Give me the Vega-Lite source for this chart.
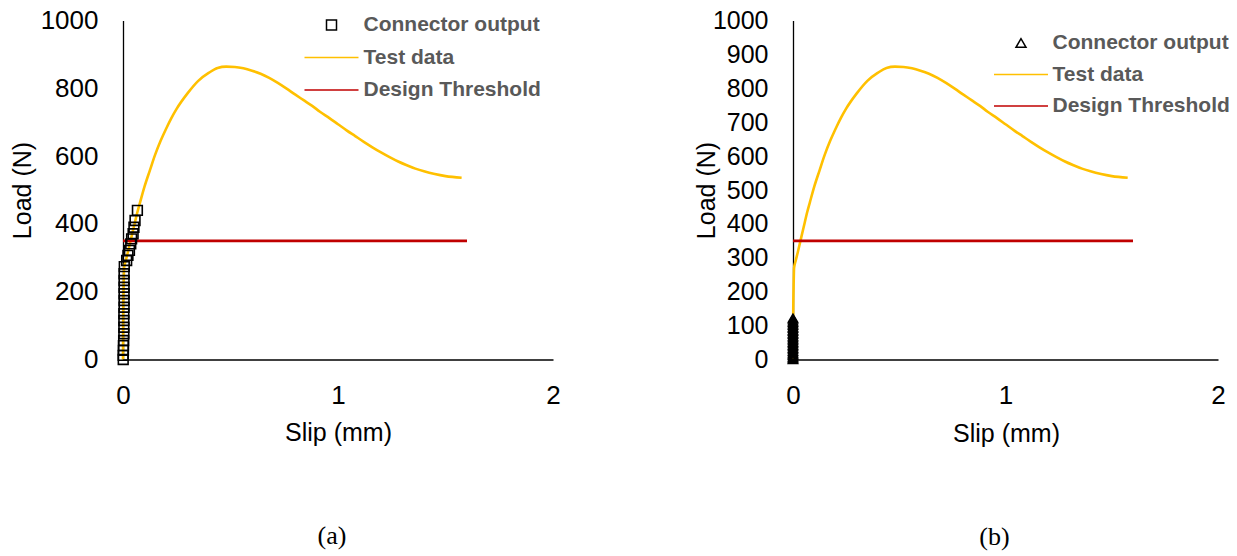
{
  "$schema": "https://vega.github.io/schema/vega-lite/v6.json",
  "padding": {"left": 10, "top": 7.5, "right": 0, "bottom": 0},
  "background": "white",
  "datasets": {
    "test": [
      {"slip": 0, "load": 0}, {"slip": 0.001, "load": 130}, {"slip": 0.003, "load": 220},
      {"slip": 0.005, "load": 270}, {"slip": 0.012, "load": 290}, {"slip": 0.022, "load": 315},
      {"slip": 0.035, "load": 350}, {"slip": 0.05, "load": 390}, {"slip": 0.067, "load": 435},
      {"slip": 0.08, "load": 465}, {"slip": 0.1, "load": 510}, {"slip": 0.125, "load": 558},
      {"slip": 0.15, "load": 605}, {"slip": 0.175, "load": 645}, {"slip": 0.2, "load": 680},
      {"slip": 0.225, "load": 712}, {"slip": 0.25, "load": 740}, {"slip": 0.3, "load": 785},
      {"slip": 0.35, "load": 822}, {"slip": 0.4, "load": 846}, {"slip": 0.44, "load": 860},
      {"slip": 0.48, "load": 864}, {"slip": 0.52, "load": 863}, {"slip": 0.56, "load": 859},
      {"slip": 0.6, "load": 852}, {"slip": 0.64, "load": 843}, {"slip": 0.68, "load": 831},
      {"slip": 0.72, "load": 816}, {"slip": 0.761, "load": 799}, {"slip": 0.8, "load": 782},
      {"slip": 0.84, "load": 765}, {"slip": 0.88, "load": 748}, {"slip": 0.916, "load": 731},
      {"slip": 0.96, "load": 712}, {"slip": 1.0, "load": 694}, {"slip": 1.04, "load": 676},
      {"slip": 1.08, "load": 659}, {"slip": 1.12, "load": 642}, {"slip": 1.16, "load": 626},
      {"slip": 1.2, "load": 611}, {"slip": 1.24, "load": 597}, {"slip": 1.28, "load": 584},
      {"slip": 1.32, "load": 573}, {"slip": 1.36, "load": 563}, {"slip": 1.4, "load": 555},
      {"slip": 1.45, "load": 547}, {"slip": 1.5, "load": 541}, {"slip": 1.575, "load": 536}
    ],
    "thr": [{"slip": 0, "load": 350}, {"slip": 1.6, "load": 350}],
    "connA": [
      {"slip": 0.001, "load": 0}, {"slip": 0.001, "load": 12}, {"slip": 0.002, "load": 27},
      {"slip": 0.002, "load": 41}, {"slip": 0.003, "load": 56}, {"slip": 0.004, "load": 76},
      {"slip": 0.004, "load": 95}, {"slip": 0.004, "load": 115}, {"slip": 0.004, "load": 135},
      {"slip": 0.005, "load": 154}, {"slip": 0.005, "load": 174}, {"slip": 0.005, "load": 194},
      {"slip": 0.005, "load": 213}, {"slip": 0.005, "load": 233}, {"slip": 0.005, "load": 253},
      {"slip": 0.006, "load": 274}, {"slip": 0.017, "load": 292}, {"slip": 0.023, "load": 307},
      {"slip": 0.03, "load": 322}, {"slip": 0.036, "load": 341}, {"slip": 0.04, "load": 356},
      {"slip": 0.047, "load": 371}, {"slip": 0.051, "load": 390}, {"slip": 0.056, "load": 410},
      {"slip": 0.067, "load": 440}
    ],
    "connB": [
      {"slip": 0, "load": 0}, {"slip": 0, "load": 2}, {"slip": 0, "load": 5}, {"slip": 0, "load": 8},
      {"slip": 0, "load": 12}, {"slip": 0, "load": 16}, {"slip": 0, "load": 20}, {"slip": 0, "load": 24},
      {"slip": 0, "load": 29}, {"slip": 0, "load": 33}, {"slip": 0, "load": 38}, {"slip": 0, "load": 42},
      {"slip": 0, "load": 47}, {"slip": 0, "load": 51}, {"slip": 0, "load": 56}, {"slip": 0, "load": 60},
      {"slip": 0, "load": 65}, {"slip": 0, "load": 69}, {"slip": 0, "load": 74}, {"slip": 0, "load": 78},
      {"slip": 0, "load": 83}, {"slip": 0, "load": 87}, {"slip": 0, "load": 92}, {"slip": 0, "load": 96},
      {"slip": 0, "load": 101}, {"slip": 0, "load": 105}, {"slip": 0, "load": 110}, {"slip": 0, "load": 114},
      {"slip": 0, "load": 119}, {"slip": 0, "load": 122}
    ]
  },
  "spacing": 240,
  "bounds": "flush",
  "resolve": {
    "scale": {"x": "independent", "y": "independent", "color": "independent", "shape": "independent"},
    "axis": {"x": "independent", "y": "independent"},
    "legend": {"color": "independent", "shape": "independent"}
  },
  "hconcat": [
    {
      "width": 430,
      "height": 339,
      "title": {"text": "(a)", "orient": "bottom", "font": "Liberation Serif", "fontSize": 26, "fontWeight": "normal", "color": "#000", "anchor": "middle", "offset": 77.5, "dx": -6},
      "encoding": {
        "x": {"field": "slip", "type": "quantitative", "scale": {"domain": [0, 2], "nice": false},
          "axis": {"values": [0, 1, 2], "labelExpr": "format(datum.value, 'd')", "labelFlush": false, "labelOverlap": false, "labelBound": false, "title": "Slip (mm)", "labelFontSize": 26, "labelPadding": 22.5, "titleFontSize": 25, "titleX": 215, "titleY": 73, "titleBaseline": "middle", "titleAlign": "center"}},
        "y": {"field": "load", "type": "quantitative", "scale": {"domain": [0, 1000], "nice": false},
          "axis": {"values": [0, 200, 400, 600, 800, 1000], "labelExpr": "format(datum.value, 'd')", "labelFlush": false, "labelOverlap": false, "labelBound": false, "title": "Load (N)", "labelFontSize": 26, "labelPadding": 25, "titleFontSize": 25, "titleX": -101, "titleY": 169.5, "titleAngle": -90, "titleBaseline": "middle", "titleAlign": "center"}}
      },
      "layer": [
        {
          "data": {"name": "test"},
          "mark": {"type": "line", "strokeWidth": 2.6, "interpolate": "monotone"},
          "encoding": {
            "color": {"datum": "Test data", "scale": {"domain": ["Connector output", "Test data", "Design Threshold"], "range": ["#000000", "#FFC000", "#C00000"]}}
          }
        },
        {
          "data": {"name": "thr"},
          "mark": {"type": "line", "strokeWidth": 2.6},
          "encoding": {"color": {"datum": "Design Threshold"}}
        },
        {
          "data": {"name": "connA"},
          "mark": {"type": "point", "filled": false, "size": 95, "strokeWidth": 1.6, "opacity": 1},
          "encoding": {
            "color": {"datum": "Connector output",
              "legend": {"title": null, "orient": "none", "legendX": 198, "legendY": -6, "labelOffset": 21.5, "rowPadding": 10.5, "padding": 0, "symbolSize": 100, "labelLimit": 0, "labelFontSize": 21, "labelFontWeight": "bold", "labelColor": "#595959", "labelFont": "Liberation Sans",
                "encode": {"symbols": {"update": {"strokeWidth": {"signal": "datum.value === 'Connector output' ? 1.8 : 2.8"}, "fill": {"value": "transparent"}, "opacity": {"value": 1}}}}}},
            "shape": {"datum": "Connector output", "scale": {"domain": ["Connector output", "Test data", "Design Threshold"], "range": ["square", "M-5.4,0H5.4", "M-5.4,0H5.4"]},
              "legend": {"title": null, "orient": "none", "legendX": 198, "legendY": -6, "labelOffset": 21.5, "rowPadding": 10.5, "padding": 0, "symbolSize": 100, "labelLimit": 0, "labelFontSize": 21, "labelFontWeight": "bold", "labelColor": "#595959", "labelFont": "Liberation Sans",
                "encode": {"symbols": {"update": {"strokeWidth": {"signal": "datum.value === 'Connector output' ? 1.8 : 2.8"}, "fill": {"value": "transparent"}, "opacity": {"value": 1}}}}}}
          }
        }
      ]
    },
    {
      "width": 425,
      "height": 339,
      "title": {"text": "(b)", "orient": "bottom", "font": "Liberation Serif", "fontSize": 26, "fontWeight": "normal", "color": "#000", "anchor": "middle", "offset": 77.5, "dx": -11},
      "encoding": {
        "x": {"field": "slip", "type": "quantitative", "scale": {"domain": [0, 2], "nice": false},
          "axis": {"values": [0, 1, 2], "labelExpr": "format(datum.value, 'd')", "labelFlush": false, "labelOverlap": false, "labelBound": false, "title": "Slip (mm)", "labelFontSize": 26, "labelPadding": 22.5, "titleFontSize": 25, "titleX": 213, "titleY": 74, "titleBaseline": "middle", "titleAlign": "center"}},
        "y": {"field": "load", "type": "quantitative", "scale": {"domain": [0, 1000], "nice": false},
          "axis": {"values": [0, 100, 200, 300, 400, 500, 600, 700, 800, 900, 1000], "tickCount": 11, "labelExpr": "format(datum.value, 'd')", "labelFlush": false, "labelOverlap": false, "labelBound": false, "labelSeparation": -20, "title": "Load (N)", "labelFontSize": 25, "labelPadding": 25, "titleFontSize": 25, "titleX": -87, "titleY": 169.5, "titleAngle": -90, "titleBaseline": "middle", "titleAlign": "center"}}
      },
      "layer": [
        {
          "data": {"name": "test"},
          "mark": {"type": "line", "strokeWidth": 2.6, "interpolate": "monotone"},
          "encoding": {
            "color": {"datum": "Test data", "scale": {"domain": ["Connector output", "Test data", "Design Threshold"], "range": ["#000000", "#FFC000", "#C00000"]}}
          }
        },
        {
          "data": {"name": "thr"},
          "mark": {"type": "line", "strokeWidth": 2.6},
          "encoding": {"color": {"datum": "Design Threshold"}}
        },
        {
          "data": {"name": "connB"},
          "mark": {"type": "point", "filled": false, "size": 80, "strokeWidth": 1.6, "opacity": 1},
          "encoding": {
            "color": {"datum": "Connector output",
              "legend": {"title": null, "orient": "none", "legendX": 217.5, "legendY": 12, "labelOffset": 21, "rowPadding": 9.5, "padding": 0, "symbolSize": 100, "labelLimit": 0, "labelFontSize": 21, "labelFontWeight": "bold", "labelColor": "#595959", "labelFont": "Liberation Sans",
                "encode": {"symbols": {"update": {"strokeWidth": {"signal": "datum.value === 'Connector output' ? 1.8 : 2.8"}, "fill": {"value": "transparent"}, "opacity": {"value": 1}}}}}},
            "shape": {"datum": "Connector output", "scale": {"domain": ["Connector output", "Test data", "Design Threshold"], "range": ["triangle-up", "M-5.4,0H5.4", "M-5.4,0H5.4"]},
              "legend": {"title": null, "orient": "none", "legendX": 217.5, "legendY": 12, "labelOffset": 21, "rowPadding": 9.5, "padding": 0, "symbolSize": 100, "labelLimit": 0, "labelFontSize": 21, "labelFontWeight": "bold", "labelColor": "#595959", "labelFont": "Liberation Sans",
                "encode": {"symbols": {"update": {"strokeWidth": {"signal": "datum.value === 'Connector output' ? 1.8 : 2.8"}, "fill": {"value": "transparent"}, "opacity": {"value": 1}}}}}}
          }
        }
      ]
    }
  ],
  "config": {
    "view": {"stroke": null},
    "font": "Liberation Sans",
    "axis": {"grid": false, "ticks": false, "tickSize": 0, "labelOverlap": false, "labelFlush": false, "domainColor": "#000000", "domainWidth": 1.3, "labelFont": "Liberation Sans", "titleFont": "Liberation Sans", "labelColor": "#000000", "titleColor": "#000000", "titleFontWeight": "normal"},
    "axisQuantitative": {"labelOverlap": false}
  }
}
